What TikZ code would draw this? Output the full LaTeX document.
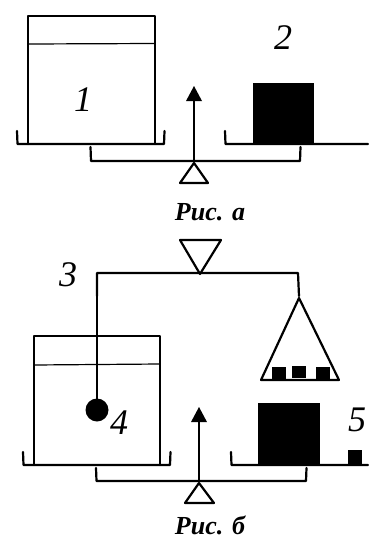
\documentclass[tikz,border=0pt]{standalone}
\usepackage{fontspec}
\setmainfont{Liberation Serif}
\tikzset{
  thick line/.style={draw=black,line width=2.2pt,line cap=round,line join=round},
  thin line/.style={draw=black,line width=1.2pt},
  solid block/.style={fill=black,draw=none},
  digit/.style={font=\fontsize{36}{36}\selectfont\itshape,inner sep=0pt},
  caption/.style={font=\fontsize{26}{26}\selectfont\bfseries\itshape,inner sep=0pt,anchor=base}
}
\begin{document}
\begin{tikzpicture}[x=1pt,y=-1pt]
\useasboundingbox (0,0) rectangle (369,541);
% Figure a
\draw[thick line] (28,144) -- (28,16) -- (155,16) -- (155,144);
\draw[thin line] (28,44) -- (155,43.5);
\draw[thick line] (17,131) -- (17.5,144) -- (164,144) -- (164.5,131);
\draw[thick line] (225,131) -- (225.5,144) -- (368,144);
\draw[thick line] (90.5,147) -- (91,161) -- (300,161) -- (300.5,147);
\draw[thick line] (194,163) -- (180,183) -- (208,183) -- cycle;
\draw[thin line] (194,162) -- (194,98);
\fill (194,86) -- (202,101) -- (186,101) -- cycle;
\fill[solid block] (253,83) rectangle (314,143);
\node[digit] (n1) at (83,100) {1};
\node[digit] (n2) at (283,38) {2};
\node[caption] (capa) at (210,220) {Рис. а};
% Figure b
\draw[thick line] (180,240) -- (221,240) -- (200,274) -- cycle;
\draw[thick line] (97,296) -- (97,273) -- (298,273) -- (299,296);
\draw[thin line] (97,296) -- (97,400);
\fill (97,410) circle (11.5);
\draw[thick line] (34,465) -- (34,336) -- (160,336) -- (160,465);
\draw[thin line] (34,365) -- (160,364);
\draw[thick line] (23,452) -- (23.5,465) -- (170,465) -- (170.5,452);
\draw[thick line] (231,452) -- (231.5,465) -- (368,465);
\draw[thick line] (96,468) -- (96.5,481) -- (306,481) -- (306.5,468);
\draw[thick line] (199,483) -- (185,503) -- (214,503) -- cycle;
\draw[thin line] (199,481) -- (199,418);
\fill (199,407) -- (207,422) -- (191,422) -- cycle;
\fill[solid block] (258,403) rectangle (320,464);
\fill[solid block] (348,450) rectangle (362,464);
\draw[thick line] (299,298) -- (261,380) -- (339,380) -- cycle;
\fill[solid block] (272,367) rectangle (286,379);
\fill[solid block] (292,366) rectangle (306,378);
\fill[solid block] (316,367) rectangle (330,379);
\node[digit] (n3) at (68,275) {3};
\node[digit] (n4) at (119,423) {4};
\node[digit] (n5) at (357,420) {5};
\node[caption] (capb) at (210,534.5) {Рис. б};
\end{tikzpicture}
\end{document}
